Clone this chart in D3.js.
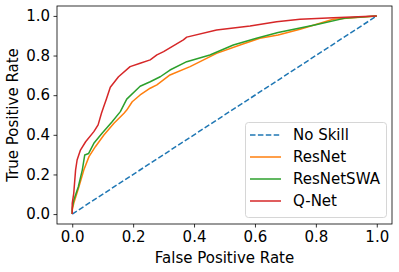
<!DOCTYPE html>
<html>
<head>
<meta charset="utf-8">
<script src="https://cdn.jsdelivr.net/npm/d3@7"></script>
<style>
  body { margin: 0; background: #fff; }
  svg text { font-family: "DejaVu Sans", sans-serif; fill: #000; }
</style>
</head>
<body>
<svg width="399" height="272"></svg>
<script>
// values
var seriesNames = ["No Skill", "ResNet", "ResNetSWA", "Q-Net"];
var tickValues = [0.0, 0.2, 0.4, 0.6, 0.8, 1.0];

var noSkillFpr = [0, 1];
var noSkillTpr = [0, 1];

var resnetFpr = [0, 0, 0.005, 0.022, 0.038, 0.055, 0.076, 0.104, 0.137, 0.17, 0.179, 0.197, 0.223, 0.256, 0.278, 0.321, 0.387, 0.474, 0.551, 0.616, 0.676, 0.748, 0.857, 1];
var resnetTpr = [0, 0.02, 0.054, 0.138, 0.222, 0.29, 0.34, 0.399, 0.458, 0.509, 0.525, 0.567, 0.601, 0.635, 0.652, 0.702, 0.744, 0.811, 0.853, 0.887, 0.904, 0.933, 0.983, 1];

var swaFpr = [0, 0, 0.005, 0.02, 0.033, 0.041, 0.054, 0.071, 0.098, 0.131, 0.158, 0.179, 0.223, 0.256, 0.289, 0.321, 0.376, 0.452, 0.529, 0.605, 0.676, 0.8, 0.9, 1];
var swaTpr = [0, 0.03, 0.07, 0.138, 0.222, 0.298, 0.306, 0.357, 0.408, 0.466, 0.517, 0.58, 0.645, 0.668, 0.693, 0.727, 0.769, 0.803, 0.853, 0.887, 0.916, 0.955, 0.99, 1];

var qnetFpr = [0, 0, 0.005, 0.011, 0.016, 0.027, 0.044, 0.071, 0.085, 0.096, 0.103, 0.112, 0.125, 0.152, 0.19, 0.223, 0.256, 0.278, 0.3, 0.365, 0.376, 0.474, 0.584, 0.671, 0.748, 0.857, 1];
var qnetTpr = [0, 0.054, 0.105, 0.222, 0.273, 0.323, 0.365, 0.416, 0.45, 0.509, 0.54, 0.58, 0.64, 0.693, 0.744, 0.761, 0.778, 0.803, 0.82, 0.879, 0.893, 0.929, 0.949, 0.971, 0.983, 0.991, 1];

var colors = ["#1f77b4", "#ff7f0e", "#2ca02c", "#d62728"];

var series = [
  { name: seriesNames[0], fpr: noSkillFpr, tpr: noSkillTpr, color: colors[0], dash: "5.5,2.4" },
  { name: seriesNames[1], fpr: resnetFpr, tpr: resnetTpr, color: colors[1], dash: null },
  { name: seriesNames[2], fpr: swaFpr, tpr: swaTpr, color: colors[2], dash: null },
  { name: seriesNames[3], fpr: qnetFpr, tpr: qnetTpr, color: colors[3], dash: null }
];

var svg = d3.select("svg");
var padL = 57, padR = 392, padT = 6, padB = 224;

var x = d3.scaleLinear().domain([-0.05, 1.05]).range([padL, padR]);
var y = d3.scaleLinear().domain([-0.05, 1.05]).range([padB, padT]);

var line = d3.line()
  .x(function(d) { return x(d[0]); })
  .y(function(d) { return y(d[1]); });

var g = svg.append("g");

series.forEach(function(s) {
  var pts = s.fpr.map(function(v, i) { return [v, s.tpr[i]]; });
  g.append("path")
    .attr("d", line(pts))
    .attr("fill", "none")
    .attr("stroke", s.color)
    .attr("stroke-width", 1.5)
    .attr("stroke-linejoin", "round")
    .attr("stroke-dasharray", s.dash);
});

// axes
var xAxis = svg.append("g")
  .attr("transform", "translate(0," + padB + ")")
  .call(d3.axisBottom(x).tickValues(tickValues).tickFormat(d3.format(".1f")).tickSizeInner(3.5).tickSizeOuter(0).tickPadding(3.5));
var yAxis = svg.append("g")
  .attr("transform", "translate(" + padL + ",0)")
  .call(d3.axisLeft(y).tickValues(tickValues).tickFormat(d3.format(".1f")).tickSizeInner(3.5).tickSizeOuter(0).tickPadding(3.5));

[xAxis, yAxis].forEach(function(a) {
  a.select(".domain").remove();
  a.selectAll("line").attr("stroke", "#000").attr("stroke-width", 0.8);
  a.selectAll("text").attr("font-size", 15).attr("font-family", "DejaVu Sans");
});

svg.append("rect")
  .attr("x", padL).attr("y", padT)
  .attr("width", padR - padL).attr("height", padB - padT)
  .attr("fill", "none").attr("stroke", "#000").attr("stroke-width", 0.8);

svg.append("text")
  .attr("x", (padL + padR) / 2).attr("y", 263)
  .attr("text-anchor", "middle").attr("font-size", 15)
  .text("False Positive Rate");

svg.append("text")
  .attr("transform", "translate(18," + (padT + padB) / 2 + ") rotate(-90)")
  .attr("text-anchor", "middle").attr("font-size", 15)
  .text("True Positive Rate");

// legend
var lg = svg.append("g");
lg.append("rect")
  .attr("x", 245.5).attr("y", 122.5).attr("width", 141).attr("height", 95)
  .attr("rx", 3).attr("fill", "#fff").attr("fill-opacity", 0.8)
  .attr("stroke", "#ccc").attr("stroke-width", 0.8);

series.forEach(function(s, i) {
  var yy = 135 + i * 22;
  lg.append("line")
    .attr("x1", 250).attr("x2", 281).attr("y1", yy).attr("y2", yy)
    .attr("stroke", s.color).attr("stroke-width", 1.5)
    .attr("stroke-dasharray", s.dash);
  lg.append("text")
    .attr("x", 293).attr("y", yy).attr("dy", "0.35em")
    .attr("font-size", 15)
    .text(s.name);
});
</script>
</body>
</html>
